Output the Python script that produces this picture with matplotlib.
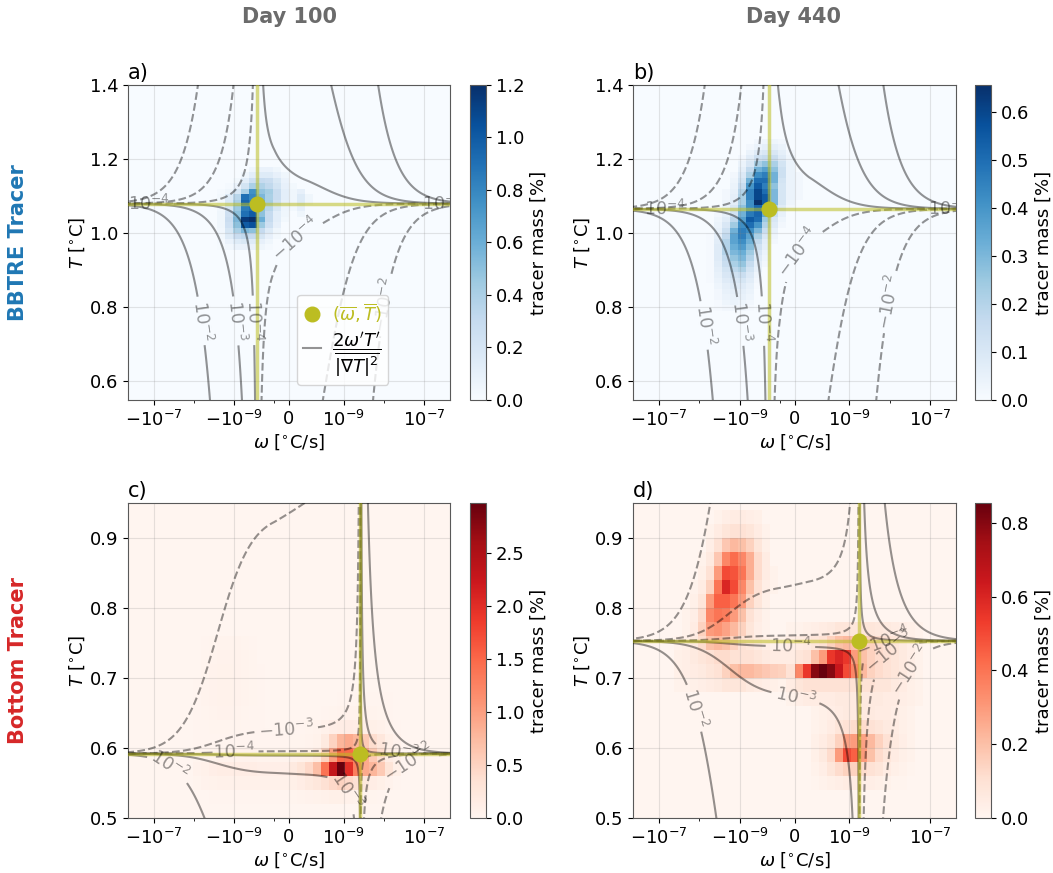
import numpy as np
import matplotlib
matplotlib.use('Agg')
import matplotlib.pyplot as plt
from matplotlib.scale import SymmetricalLogTransform
from matplotlib.lines import Line2D

# ---------------- data ----------------
LINTHRESH = 1e-10
LINSCALE = 0.33
XLIM = 4.5e-7
U_STEP = 0.2                     # histogram bin width in symlog decades
T_STEP_TOP = 0.015               # temperature bin width, BBTRE tracer
T_STEP_BOT = 0.02                # temperature bin width, bottom tracer

PANELS = ['a', 'b', 'c', 'd']
YLIMS = {'a': (0.55, 1.4), 'b': (0.55, 1.4), 'c': (0.5, 0.95), 'd': (0.5, 0.95)}
OMEGA_MEAN = {'a': -2.65e-10, 'b': -1.83e-10, 'c': 2.62e-9, 'd': 1.75e-9}
T_MEAN = {'a': 1.080, 'b': 1.066, 'c': 0.592, 'd': 0.753}
# |grad T|^2 scale, per quadrant (upper-left, upper-right, lower-left, lower-right)
GRAD2 = {'a': (5.0e-7, 4.8e-7, 4.0e-7, 6.0e-7),
         'b': (4.8e-7, 4.8e-7, 4.6e-7, 5.0e-7),
         'c': (1.8e-7, 1.0e-7, 1.5e-7, 1.1e-7),
         'd': (2.8e-7, 2.3e-7, 2.8e-7, 2.6e-7)}
LEVELS = {'a': [-1e-2, -1e-3, -1e-4, 1e-4, 1e-3, 1e-2],
          'b': [-1e-2, -1e-3, -1e-4, 1e-4, 1e-3, 1e-2],
          'c': [-1e-2, -1e-3, -1e-4, 1e-4, 1e-3, 1e-2],
          'd': [-1e-2, -1e-3, -1e-4, 1e-4, 1e-3, 1e-2]}
VMAX = {'a': 1.2, 'b': 0.656, 'c': 2.97, 'd': 0.854}
CBAR_TICKS = {'a': [0, 0.2, 0.4, 0.6, 0.8, 1.0, 1.2],
              'b': [0, 0.1, 0.2, 0.3, 0.4, 0.5, 0.6],
              'c': [0, 0.5, 1.0, 1.5, 2.0, 2.5],
              'd': [0, 0.2, 0.4, 0.6, 0.8]}
XTICKS = [-1e-7, -1e-9, 0, 1e-9, 1e-7]
XTICKLABELS = [r'$-10^{-7}$', r'$-10^{-9}$', '0', r'$10^{-9}$', r'$10^{-7}$']
XMINOR = [-1e-8, -1e-10, 1e-8]
YTICKS = {'a': [0.6, 0.8, 1.0, 1.2, 1.4], 'b': [0.6, 0.8, 1.0, 1.2, 1.4],
          'c': [0.5, 0.6, 0.7, 0.8, 0.9], 'd': [0.5, 0.6, 0.7, 0.8, 0.9]}
COL_TITLES = ['Day 100', 'Day 440']
ROW_TITLES = ['BBTRE Tracer', 'Bottom Tracer']

# contour-label anchor points (symlog decades, T)
LABEL_AT = {'a': [(-2.22, 0.763), (-1.36, 0.763), (-0.86, 0.765), (0.0, 1.005),
                  (2.22, 0.81), (-3.5, 1.0799), (3.85, 1.08)],
            'b': [(-2.2, 0.752), (-1.28, 0.763), (-0.77, 0.763), (-0.02, 0.957),
                  (2.3, 0.816), (-3.23, 1.0657), (3.85, 1.066)],
            'c': [(-0.07, 0.626), (-1.56, 0.593), (-2.96, 0.576), (1.48, 0.54),
                  (2.96, 0.58), (2.75, 0.60)],
            'd': [(-0.1, 0.747), (0.02, 0.671), (-2.37, 0.659), (2.2, 0.75),
                  (2.37, 0.736), (2.81, 0.714)]}

# tracer mass [%] blocks: (left u edge, bottom T edge, rows listed top -> bottom)
A_U0, A_T0 = -1.8, 0.955
A_BLOCK = [
    [0.00, 0.00, 0.00, 0.00, 0.05, 0.08, 0.08, 0.05, 0.00, 0.00, 0.00, 0.00],
    [0.00, 0.00, 0.00, 0.05, 0.12, 0.15, 0.15, 0.10, 0.05, 0.00, 0.00, 0.00],
    [0.00, 0.00, 0.03, 0.12, 0.25, 0.30, 0.28, 0.18, 0.08, 0.00, 0.00, 0.00],
    [0.00, 0.02, 0.08, 0.22, 0.40, 0.38, 0.32, 0.22, 0.10, 0.03, 0.00, 0.00],
    [0.02, 0.05, 0.18, 0.40, 0.75, 0.48, 0.42, 0.28, 0.12, 0.05, 0.10, 0.00],
    [0.03, 0.15, 0.35, 0.90, 0.80, 0.55, 0.40, 0.28, 0.12, 0.05, 0.15, 0.05],
    [0.03, 0.18, 0.40, 0.95, 0.85, 0.60, 0.42, 0.25, 0.10, 0.05, 0.15, 0.05],
    [0.04, 0.20, 0.45, 0.85, 0.90, 0.50, 0.35, 0.18, 0.06, 0.03, 0.10, 0.00],
    [0.05, 0.25, 0.50, 0.90, 1.00, 0.50, 0.30, 0.12, 0.05, 0.00, 0.05, 0.00],
    [0.05, 0.28, 0.55, 1.15, 1.20, 0.60, 0.30, 0.12, 0.03, 0.00, 0.00, 0.00],
    [0.05, 0.25, 0.50, 1.00, 1.05, 0.45, 0.25, 0.10, 0.00, 0.00, 0.00, 0.00],
    [0.04, 0.20, 0.40, 0.55, 0.50, 0.30, 0.15, 0.05, 0.00, 0.00, 0.00, 0.00],
    [0.03, 0.15, 0.28, 0.32, 0.30, 0.20, 0.10, 0.03, 0.00, 0.00, 0.00, 0.00],
    [0.02, 0.08, 0.15, 0.18, 0.15, 0.10, 0.05, 0.00, 0.00, 0.00, 0.00, 0.00],
    [0.01, 0.04, 0.08, 0.08, 0.08, 0.05, 0.02, 0.00, 0.00, 0.00, 0.00, 0.00],
]

B_U0, B_T0 = -2.2, 0.79
B_BLOCK = [
    [0, 0, 0, 0, 0, 0, 0.02, 0.03, 0.03, 0.02, 0, 0],
    [0, 0, 0, 0, 0, 0.02, 0.04, 0.06, 0.06, 0.04, 0, 0],
    [0, 0, 0, 0, 0, 0.04, 0.08, 0.10, 0.10, 0.06, 0.02, 0],
    [0, 0, 0, 0, 0.02, 0.07, 0.14, 0.16, 0.15, 0.08, 0.03, 0],
    [0, 0, 0, 0, 0.04, 0.10, 0.22, 0.27, 0.22, 0.12, 0.04, 0],
    [0, 0, 0, 0, 0.06, 0.17, 0.32, 0.37, 0.27, 0.14, 0.04, 0],
    [0, 0, 0, 0.02, 0.09, 0.22, 0.42, 0.46, 0.32, 0.14, 0.04, 0.02],
    [0, 0, 0, 0.03, 0.12, 0.32, 0.50, 0.50, 0.32, 0.12, 0.04, 0.02],
    [0, 0, 0, 0.04, 0.16, 0.40, 0.55, 0.46, 0.27, 0.11, 0.04, 0.02],
    [0, 0, 0.02, 0.05, 0.20, 0.45, 0.60, 0.50, 0.30, 0.11, 0.04, 0.02],
    [0, 0, 0.02, 0.06, 0.22, 0.45, 0.60, 0.55, 0.30, 0.11, 0.04, 0.02],
    [0, 0, 0.03, 0.07, 0.22, 0.42, 0.656, 0.55, 0.30, 0.11, 0.03, 0],
    [0, 0.01, 0.04, 0.10, 0.27, 0.42, 0.52, 0.40, 0.20, 0.08, 0.02, 0],
    [0, 0.02, 0.05, 0.13, 0.32, 0.47, 0.52, 0.35, 0.15, 0.05, 0, 0],
    [0, 0.03, 0.07, 0.18, 0.37, 0.55, 0.50, 0.25, 0.10, 0.03, 0, 0],
    [0, 0.04, 0.10, 0.24, 0.42, 0.50, 0.40, 0.20, 0.08, 0.02, 0, 0],
    [0, 0.05, 0.14, 0.32, 0.46, 0.42, 0.30, 0.15, 0.05, 0, 0, 0],
    [0.01, 0.06, 0.17, 0.36, 0.46, 0.36, 0.22, 0.10, 0.03, 0, 0, 0],
    [0.01, 0.07, 0.20, 0.36, 0.42, 0.32, 0.17, 0.07, 0.02, 0, 0, 0],
    [0.01, 0.08, 0.20, 0.33, 0.38, 0.28, 0.13, 0.06, 0, 0, 0, 0],
    [0.01, 0.08, 0.20, 0.30, 0.33, 0.24, 0.10, 0.04, 0, 0, 0, 0],
    [0.01, 0.08, 0.17, 0.26, 0.30, 0.20, 0.08, 0.03, 0, 0, 0, 0],
    [0.01, 0.07, 0.15, 0.22, 0.26, 0.16, 0.06, 0.02, 0, 0, 0, 0],
    [0.01, 0.06, 0.12, 0.18, 0.21, 0.12, 0.05, 0, 0, 0, 0, 0],
    [0.01, 0.05, 0.10, 0.13, 0.15, 0.09, 0.03, 0, 0, 0, 0, 0],
    [0.01, 0.04, 0.08, 0.10, 0.11, 0.07, 0.02, 0, 0, 0, 0, 0],
    [0, 0.03, 0.06, 0.08, 0.08, 0.05, 0.01, 0, 0, 0, 0, 0],
    [0, 0.02, 0.05, 0.06, 0.06, 0.04, 0, 0, 0, 0, 0, 0],
    [0, 0.02, 0.04, 0.05, 0.05, 0.03, 0, 0, 0, 0, 0, 0],
    [0, 0.01, 0.03, 0.04, 0.03, 0.02, 0, 0, 0, 0, 0, 0],
    [0, 0.01, 0.02, 0.02, 0.02, 0.01, 0, 0, 0, 0, 0, 0],
]

C_U0, C_T0 = -2.4, 0.52
C_BLOCK = [
    [0, 0.02, 0.03, 0.04, 0.04, 0.04, 0.03, 0.02, 0, 0, 0, 0, 0, 0, 0, 0, 0, 0, 0, 0, 0, 0, 0, 0, 0, 0],
    [0, 0.03, 0.04, 0.05, 0.05, 0.05, 0.04, 0.03, 0.01, 0, 0, 0, 0, 0, 0, 0, 0, 0, 0, 0, 0, 0, 0, 0, 0, 0],
    [0, 0.03, 0.05, 0.06, 0.06, 0.05, 0.04, 0.03, 0.02, 0, 0, 0, 0, 0, 0, 0, 0, 0, 0, 0, 0, 0, 0, 0, 0, 0],
    [0.02, 0.04, 0.05, 0.06, 0.06, 0.05, 0.04, 0.03, 0.02, 0, 0, 0, 0, 0, 0, 0, 0, 0, 0, 0, 0, 0, 0, 0, 0, 0],
    [0.02, 0.04, 0.05, 0.06, 0.06, 0.05, 0.04, 0.03, 0.02, 0, 0, 0, 0, 0, 0, 0, 0, 0, 0.02, 0.02, 0.02, 0.02, 0.02, 0.02, 0.02, 0],
    [0.02, 0.03, 0.04, 0.05, 0.05, 0.04, 0.03, 0.02, 0.02, 0.01, 0, 0, 0, 0, 0, 0, 0.02, 0.03, 0.04, 0.05, 0.05, 0.05, 0.04, 0.03, 0.02, 0],
    [0.02, 0.02, 0.03, 0.03, 0.03, 0.03, 0.02, 0.02, 0.02, 0.01, 0.01, 0.01, 0.02, 0.02, 0.03, 0.04, 0.08, 0.12, 0.15, 0.16, 0.15, 0.12, 0.10, 0.07, 0.04, 0.02],
    [0.02, 0.02, 0.02, 0.02, 0.02, 0.02, 0.02, 0.02, 0.02, 0.02, 0.02, 0.02, 0.03, 0.03, 0.04, 0.06, 0.20, 0.50, 0.80, 0.90, 0.80, 0.60, 0.40, 0.25, 0.10, 0.05],
    [0.03, 0.03, 0.04, 0.05, 0.05, 0.05, 0.05, 0.05, 0.04, 0.04, 0.04, 0.04, 0.05, 0.08, 0.10, 0.18, 0.50, 1.00, 1.50, 1.50, 1.20, 0.90, 0.60, 0.40, 0.15, 0.08],
    [0.05, 0.08, 0.12, 0.15, 0.15, 0.15, 0.15, 0.15, 0.12, 0.12, 0.12, 0.12, 0.20, 0.30, 0.45, 0.70, 1.40, 2.30, 2.97, 2.00, 1.30, 0.90, 0.80, 0.60, 0.30, 0.10],
    [0.03, 0.05, 0.06, 0.08, 0.08, 0.08, 0.08, 0.08, 0.07, 0.07, 0.07, 0.08, 0.10, 0.15, 0.20, 0.25, 0.35, 0.45, 0.50, 0.45, 0.35, 0.25, 0.15, 0.10, 0.05, 0.02],
    [0, 0.01, 0.02, 0.02, 0.02, 0.02, 0.02, 0.02, 0.02, 0.02, 0.02, 0.02, 0.03, 0.04, 0.05, 0.06, 0.08, 0.10, 0.10, 0.08, 0.06, 0.05, 0.03, 0.02, 0.01, 0],
]

D_LEFT_U0, D_LEFT_T0 = -3.0, 0.68
D_LEFT = [
    [0, 0, 0, 0, 0, 0.02, 0.04, 0.05, 0.05, 0.04, 0.03, 0, 0, 0],
    [0, 0, 0, 0, 0.02, 0.05, 0.08, 0.10, 0.10, 0.08, 0.05, 0.02, 0, 0],
    [0, 0, 0, 0, 0.04, 0.10, 0.18, 0.22, 0.20, 0.15, 0.08, 0.03, 0, 0],
    [0, 0, 0, 0.02, 0.06, 0.18, 0.35, 0.42, 0.35, 0.25, 0.12, 0.05, 0, 0],
    [0, 0, 0, 0.03, 0.10, 0.30, 0.50, 0.48, 0.40, 0.25, 0.12, 0.05, 0.02, 0],
    [0, 0, 0.02, 0.05, 0.15, 0.40, 0.60, 0.50, 0.35, 0.20, 0.10, 0.04, 0.02, 0],
    [0, 0, 0.03, 0.08, 0.30, 0.45, 0.45, 0.40, 0.30, 0.15, 0.08, 0.03, 0, 0],
    [0, 0.02, 0.04, 0.12, 0.35, 0.40, 0.38, 0.30, 0.20, 0.10, 0.05, 0.02, 0, 0],
    [0, 0.02, 0.05, 0.15, 0.30, 0.32, 0.28, 0.22, 0.15, 0.08, 0.04, 0.02, 0, 0],
    [0.02, 0.03, 0.06, 0.12, 0.20, 0.22, 0.20, 0.15, 0.10, 0.08, 0.06, 0.04, 0.02, 0.02],
    [0.03, 0.04, 0.06, 0.08, 0.10, 0.12, 0.12, 0.10, 0.10, 0.10, 0.08, 0.06, 0.05, 0.05],
    [0.03, 0.04, 0.05, 0.06, 0.08, 0.10, 0.15, 0.20, 0.22, 0.22, 0.20, 0.18, 0.16, 0.15],
    [0.02, 0.02, 0.03, 0.04, 0.05, 0.06, 0.08, 0.08, 0.08, 0.06, 0.05, 0.04, 0.03, 0.02],
]

D_CENTER_U0, D_CENTER_T0 = -0.2, 0.66
D_CENTER = [
    [0.02, 0.02, 0.03, 0.04, 0.05, 0.06, 0.08, 0.08, 0.08, 0.08, 0.08, 0.07, 0.06, 0.05, 0.04, 0.03, 0.02],
    [0.04, 0.05, 0.06, 0.08, 0.10, 0.15, 0.20, 0.22, 0.20, 0.18, 0.15, 0.12, 0.10, 0.08, 0.06, 0.04, 0.02],
    [0.05, 0.08, 0.10, 0.20, 0.30, 0.55, 0.60, 0.55, 0.30, 0.20, 0.15, 0.12, 0.10, 0.08, 0.06, 0.04, 0.02],
    [0.10, 0.35, 0.55, 0.80, 0.854, 0.80, 0.65, 0.50, 0.35, 0.22, 0.15, 0.12, 0.10, 0.08, 0.06, 0.04, 0.02],
    [0.05, 0.08, 0.10, 0.10, 0.10, 0.10, 0.10, 0.10, 0.10, 0.10, 0.10, 0.08, 0.08, 0.06, 0.05, 0.03, 0.02],
    [0.02, 0.04, 0.05, 0.05, 0.05, 0.05, 0.06, 0.06, 0.06, 0.06, 0.06, 0.06, 0.05, 0.05, 0.04, 0.03, 0.02],
]

D_LOW_U0, D_LOW_T0 = 0.4, 0.54
D_LOW = [
    [0.02, 0.03, 0.04, 0.05, 0.06, 0.06, 0.06, 0.06, 0.05, 0.05, 0.04, 0.03, 0.02],
    [0.02, 0.03, 0.05, 0.08, 0.10, 0.12, 0.12, 0.10, 0.08, 0.06, 0.05, 0.03, 0.02],
    [0.03, 0.05, 0.08, 0.15, 0.28, 0.30, 0.28, 0.22, 0.15, 0.10, 0.06, 0.04, 0.02],
    [0.03, 0.06, 0.12, 0.30, 0.50, 0.45, 0.30, 0.20, 0.12, 0.08, 0.05, 0.03, 0.02],
    [0.02, 0.04, 0.08, 0.12, 0.15, 0.15, 0.12, 0.10, 0.08, 0.05, 0.03, 0.02, 0.01],
    [0.01, 0.02, 0.03, 0.04, 0.05, 0.05, 0.04, 0.04, 0.03, 0.02, 0.01, 0.01, 0.00],
]

BLOCKS = {'a': [(A_U0, A_T0, A_BLOCK)],
          'b': [(B_U0, B_T0, B_BLOCK)],
          'c': [(C_U0, C_T0, C_BLOCK)],
          'd': [(D_LEFT_U0, D_LEFT_T0, D_LEFT), (D_CENTER_U0, D_CENTER_T0, D_CENTER),
                (D_LOW_U0, D_LOW_T0, D_LOW)]}

# ---------------- helpers ----------------
tr = SymmetricalLogTransform(10, LINTHRESH, LINSCALE)
inv = tr.inverted()


def u_to_omega(u):
    return inv.transform(np.asarray(u, dtype=float).reshape(-1, 1) * LINTHRESH).ravel()


U_EDGES = np.round(np.arange(-4.2, 4.2001, U_STEP), 6)
OMEGA_EDGES = u_to_omega(U_EDGES)


def build_grid(key):
    lo, hi = YLIMS[key]
    step = T_STEP_TOP if key in ('a', 'b') else T_STEP_BOT
    nT = int(np.ceil((hi - lo) / step - 1e-9))
    T_edges = lo + step * np.arange(nT + 1)
    grid = np.zeros((nT, len(U_EDGES) - 1))
    for u0, t0, block in BLOCKS[key]:
        arr = np.array(block, dtype=float)[::-1]
        i0 = int(round((u0 - U_EDGES[0]) / U_STEP))
        j0 = int(round((t0 - lo) / step))
        grid[j0:j0 + arr.shape[0], i0:i0 + arr.shape[1]] += arr
    return T_edges, grid


def fmt_level(v):
    e = int(round(np.log10(abs(v))))
    return (r'$-10^{%d}$' % e) if v < 0 else (r'$10^{%d}$' % e)


# ---------------- figure ----------------
W, H = 1053, 873
fig = plt.figure(figsize=(W / 100, H / 100), dpi=100)
plt.rcParams['font.family'] = ['DejaVu Sans']

ax_rects = {'a': (128, 85, 322, 315), 'b': (633, 85, 323, 315),
            'c': (128, 503, 322, 315), 'd': (633, 503, 323, 315)}
cb_rects = {'a': (470, 85, 16, 315), 'b': (975, 85, 16, 315),
            'c': (470, 503, 16, 315), 'd': (975, 503, 16, 315)}

OLIVE = '#bcbd22'

for key in PANELS:
    x, y, w, h = ax_rects[key]
    ax = fig.add_axes([x / W, 1 - (y + h) / H, w / W, h / H])
    ax.set_xscale('symlog', linthresh=LINTHRESH, linscale=LINSCALE)
    cmap = 'Blues' if key in ('a', 'b') else 'Reds'
    T_edges, grid = build_grid(key)
    pm = ax.pcolormesh(OMEGA_EDGES, T_edges, grid, cmap=cmap, vmin=0, vmax=VMAX[key],
                       shading='flat', rasterized=True)
    ax.set_xlim(-XLIM, XLIM)
    ax.set_ylim(*YLIMS[key])

    # contours of 2 w'T' / |grad T|^2
    uf = np.linspace(-4.15, 4.15, 1600)
    wf = u_to_omega(uf)
    tf = np.linspace(YLIMS[key][0] - 0.01, YLIMS[key][1] + 0.01, 1500)
    WW, TT = np.meshgrid(wf, tf)
    wp = WW - OMEGA_MEAN[key]
    tp = TT - T_MEAN[key]
    gl, gr, bl, br = GRAD2[key]
    G = np.where(tp >= 0, np.where(wp < 0, gl, gr), np.where(wp < 0, bl, br))
    F = 2 * wp * tp / G
    cs = ax.contour(WW, TT, F, levels=LEVELS[key], colors='k', alpha=0.42,
                    linewidths=1.5, zorder=3)
    manual = [(u_to_omega([u])[0], t) for u, t in LABEL_AT[key]]
    ax.clabel(cs, fmt=fmt_level, fontsize=12.5, inline=True, inline_spacing=4,
              manual=manual)

    ax.axvline(OMEGA_MEAN[key], color=OLIVE, alpha=0.55, lw=2.5, zorder=4)
    ax.axhline(T_MEAN[key], color=OLIVE, alpha=0.55, lw=2.5, zorder=4)
    ax.plot([OMEGA_MEAN[key]], [T_MEAN[key]], 'o', color=OLIVE, ms=10.5, zorder=6)

    ax.set_xlim(-XLIM, XLIM)
    ax.set_ylim(*YLIMS[key])
    ax.set_xticks(XTICKS)
    ax.set_xticklabels(XTICKLABELS)
    ax.set_xticks(XMINOR, minor=True)
    ax.set_yticks(YTICKS[key])
    ax.set_yticklabels(['%.1f' % v for v in YTICKS[key]])
    ax.tick_params(labelsize=13)
    ax.grid(True, which='major', color='0.5', alpha=0.2, lw=0.8)
    for sp in ax.spines.values():
        sp.set_color('0.35')
    ax.set_xlabel(r'$\omega$ [$^{\circ}$C/s]', fontsize=13, labelpad=2)
    ax.set_ylabel(r'$T$ [$^{\circ}$C]', fontsize=13, labelpad=2)
    ax.set_title(key + ')', loc='left', fontsize=15, pad=4)

    cx, cy, cw, chh = cb_rects[key]
    cax = fig.add_axes([cx / W, 1 - (cy + chh) / H, cw / W, chh / H])
    cb = fig.colorbar(pm, cax=cax, ticks=CBAR_TICKS[key])
    cb.ax.set_yticklabels(['%.1f' % v for v in CBAR_TICKS[key]])
    cb.ax.tick_params(labelsize=13)
    cb.set_label('tracer mass [%]', fontsize=13)
    cb.outline.set_edgecolor('0.35')

    if key == 'a':
        handles = [Line2D([], [], marker='o', ls='none', color=OLIVE, ms=10.5),
                   Line2D([], [], color='k', alpha=0.42, lw=1.5)]
        labels = [r'$(\overline{\omega},\overline{T})$',
                  r'$\dfrac{2\omega^\prime T^\prime}{\overline{|\nabla T|^2}}$']
        leg = ax.legend(handles, labels, loc='lower left', bbox_to_anchor=(0.525, 0.048),
                        borderaxespad=0, fontsize=13, handlelength=1.0,
                        handletextpad=0.6, framealpha=0.8, borderpad=0.35,
                        labelspacing=0.3)
        leg.get_texts()[0].set_color(OLIVE)
        leg.set_zorder(10)

for i, t in enumerate(COL_TITLES):
    fig.text((289 + 505 * i) / W, 1 - 17 / H, t, ha='center', va='center',
             fontsize=15, fontweight='bold', color='0.42')
for i, (t, c) in enumerate(zip(ROW_TITLES, ['tab:blue', 'tab:red'])):
    fig.text(18 / W, 1 - (243 + 418 * i) / H, t, rotation=90, ha='center', va='center',
             fontsize=15, fontweight='bold', color=c)

fig.savefig('out.png', dpi=100)
